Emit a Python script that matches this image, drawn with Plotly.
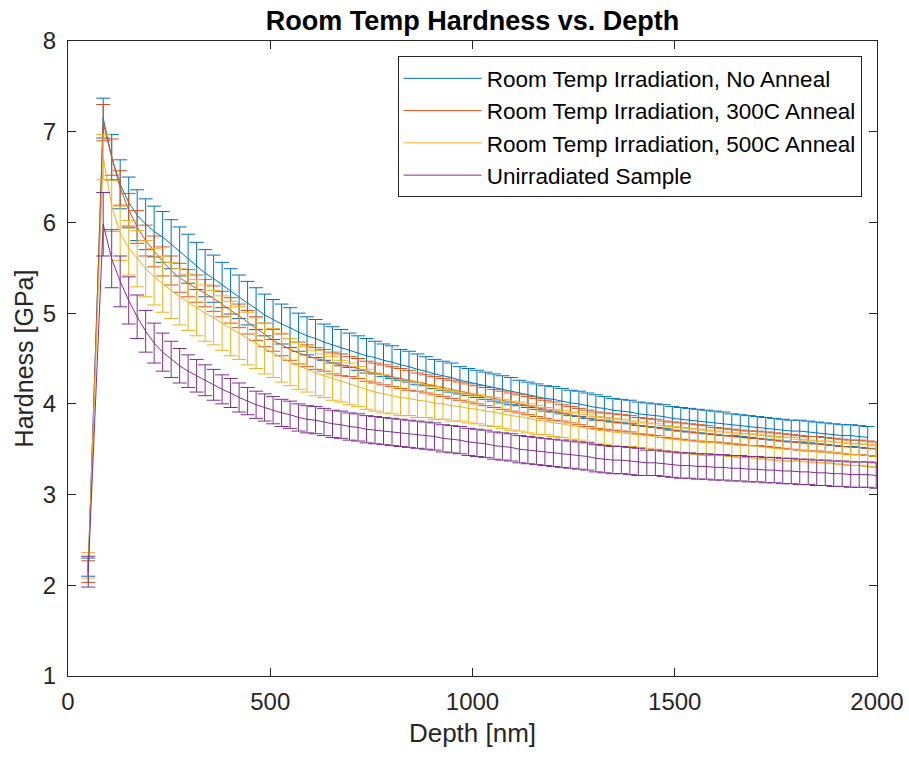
import plotly.graph_objects as go

DEPTH = [50, 87, 108, 129, 150, 171, 192, 213, 234, 255, 276, 297, 318, 339, 360, 381, 402, 423,
         444, 465, 486, 507, 528, 549, 570, 591, 612, 633, 654, 675, 696, 717, 738, 759, 780, 801,
         822, 843, 864, 885, 906, 927, 948, 969, 990, 1011, 1032, 1053, 1074, 1095, 1116, 1137,
         1158, 1179, 1200, 1221, 1242, 1263, 1284, 1305, 1326, 1347, 1368, 1389, 1410, 1431, 1452,
         1473, 1494, 1515, 1536, 1557, 1578, 1599, 1620, 1641, 1662, 1683, 1704, 1725, 1746, 1767,
         1788, 1809, 1830, 1851, 1872, 1893, 1914, 1935, 1956, 1977, 1998]

NO_ANNEAL = [2.20, 7.15, 6.72, 6.42, 6.22, 6.08, 5.98, 5.90, 5.84, 5.76, 5.68, 5.60, 5.52, 5.44,
             5.38, 5.31, 5.24, 5.18, 5.11, 5.05, 4.98, 4.93, 4.88, 4.84, 4.79, 4.75, 4.72, 4.68,
             4.65, 4.62, 4.59, 4.56, 4.53, 4.51, 4.48, 4.46, 4.43, 4.41, 4.38, 4.36, 4.33, 4.31,
             4.29, 4.26, 4.24, 4.22, 4.20, 4.18, 4.16, 4.14, 4.12, 4.10, 4.08, 4.06, 4.05, 4.03,
             4.01, 4.00, 3.98, 3.96, 3.95, 3.93, 3.92, 3.91, 3.89, 3.88, 3.87, 3.86, 3.84, 3.83,
             3.82, 3.81, 3.80, 3.79, 3.78, 3.77, 3.76, 3.75, 3.74, 3.73, 3.72, 3.71, 3.70, 3.70,
             3.69, 3.68, 3.67, 3.66, 3.65, 3.65, 3.64, 3.63]
NO_ANNEAL_ERR = [0.10, 0.22, 0.25, 0.27, 0.28,
                 0.28, 0.28, 0.28, 0.28, 0.27, 0.27, 0.27, 0.26, 0.26,
                 0.26, 0.25, 0.25, 0.24, 0.24, 0.23, 0.23, 0.22, 0.22, 0.22, 0.21,
                 0.21, 0.21, 0.20, 0.20, 0.20, 0.19, 0.19, 0.19, 0.18, 0.18, 0.18, 0.17, 0.17, 0.17,
                 0.16, 0.16, 0.16, 0.16, 0.15, 0.15,
                 0.15, 0.15, 0.15, 0.15, 0.15, 0.14, 0.14, 0.14, 0.14, 0.14, 0.14, 0.14, 0.14, 0.14,
                 0.14, 0.13, 0.13, 0.13, 0.13, 0.13, 0.13, 0.13, 0.13, 0.13, 0.13, 0.13, 0.13, 0.13,
                 0.13, 0.13, 0.12, 0.12, 0.12, 0.12, 0.12, 0.12, 0.12, 0.12, 0.12, 0.12, 0.12, 0.12,
                 0.12, 0.12, 0.12, 0.12, 0.12]

ANNEAL_300 = [2.15, 7.10, 6.72, 6.38, 6.14, 5.95, 5.80, 5.68, 5.57, 5.47, 5.39, 5.33, 5.27, 5.22,
              5.16, 5.10, 5.03, 4.97, 4.90, 4.83, 4.76, 4.70, 4.65, 4.60, 4.56, 4.53, 4.50, 4.48,
              4.45, 4.43, 4.41, 4.39, 4.36, 4.34, 4.32, 4.30, 4.28, 4.26, 4.24, 4.22, 4.20, 4.18,
              4.16, 4.14, 4.12, 4.10, 4.08, 4.06, 4.04, 4.02, 4.00, 3.98, 3.96, 3.94, 3.92, 3.90,
              3.88, 3.86, 3.84, 3.82, 3.81, 3.80, 3.79, 3.78, 3.76, 3.75, 3.74, 3.72, 3.71, 3.70,
              3.69, 3.68, 3.67, 3.66, 3.65, 3.64, 3.63, 3.62, 3.62, 3.61, 3.60, 3.59, 3.58, 3.57,
              3.56, 3.56, 3.55, 3.54, 3.53, 3.52, 3.52, 3.51, 3.50]
ANNEAL_300_ERR = [0.12, 0.20, 0.20, 0.19, 0.18,
                  0.18, 0.17, 0.17, 0.16, 0.16, 0.16, 0.15, 0.15, 0.15,
                  0.14, 0.14, 0.14, 0.13, 0.13, 0.13, 0.13, 0.12, 0.12, 0.12, 0.12,
                  0.12, 0.12, 0.12, 0.12, 0.12, 0.11, 0.11, 0.11, 0.11, 0.11, 0.11, 0.11, 0.11,
                  0.10, 0.10, 0.10, 0.10, 0.10, 0.10, 0.10,
                  0.10, 0.10, 0.10, 0.10, 0.10, 0.10, 0.10, 0.10, 0.10, 0.10, 0.09, 0.09, 0.09,
                  0.09, 0.09, 0.09, 0.09, 0.09, 0.09, 0.09, 0.09, 0.09, 0.09, 0.09, 0.09, 0.09,
                  0.09, 0.09, 0.08, 0.08, 0.08, 0.08, 0.08, 0.08, 0.08, 0.08, 0.08, 0.08, 0.08,
                  0.08, 0.08, 0.08, 0.08, 0.08, 0.08, 0.08, 0.08, 0.08]

ANNEAL_500 = [2.22, 6.72, 6.18, 5.88, 5.72, 5.60, 5.49, 5.40, 5.32, 5.25, 5.18, 5.12, 5.06, 5.00,
              4.95, 4.89, 4.83, 4.78, 4.72, 4.67, 4.61, 4.56, 4.51, 4.46, 4.42, 4.38, 4.34, 4.31,
              4.28, 4.25, 4.22, 4.19, 4.16, 4.13, 4.11, 4.09, 4.07, 4.06, 4.04, 4.03, 4.01, 4.00,
              3.98, 3.97, 3.95, 3.94, 3.92, 3.91, 3.89, 3.87, 3.86, 3.84, 3.82, 3.81, 3.79, 3.78,
              3.76, 3.75, 3.73, 3.71, 3.70, 3.69, 3.68, 3.67, 3.66, 3.65, 3.64, 3.62, 3.61, 3.60,
              3.59, 3.58, 3.57, 3.57, 3.56, 3.55, 3.54, 3.54, 3.53, 3.52, 3.51, 3.50, 3.50, 3.49,
              3.48, 3.47, 3.47, 3.46, 3.45, 3.44, 3.44, 3.43, 3.42]
ANNEAL_500_ERR = [0.14, 0.25, 0.28, 0.30, 0.30,
                  0.31, 0.31, 0.31, 0.31, 0.31, 0.31, 0.31, 0.31, 0.31,
                  0.30, 0.30, 0.30, 0.29, 0.29, 0.28, 0.28, 0.27, 0.27, 0.26, 0.26,
                  0.25, 0.25, 0.24, 0.24, 0.23, 0.23, 0.22, 0.22, 0.21, 0.21, 0.20, 0.20, 0.19,
                  0.19, 0.18, 0.18, 0.17, 0.17, 0.16, 0.16,
                  0.16, 0.16, 0.16, 0.16, 0.16, 0.16, 0.16, 0.16, 0.15, 0.15, 0.15, 0.15, 0.15,
                  0.15, 0.15, 0.15, 0.15, 0.15, 0.14, 0.14, 0.14, 0.14, 0.14, 0.14, 0.14, 0.14,
                  0.14, 0.14, 0.13, 0.13, 0.13, 0.13, 0.13, 0.13, 0.13, 0.13, 0.13, 0.13, 0.12,
                  0.12, 0.12, 0.12, 0.12, 0.12, 0.12, 0.12, 0.12, 0.12]

UNIRRADIATED = [2.15, 5.98, 5.60, 5.35, 5.14, 4.96, 4.80, 4.67, 4.57, 4.49, 4.42, 4.36, 4.31, 4.26,
                4.21, 4.16, 4.12, 4.07, 4.03, 3.99, 3.96, 3.93, 3.90, 3.88, 3.85, 3.83, 3.82, 3.80,
                3.78, 3.77, 3.75, 3.74, 3.72, 3.71, 3.70, 3.69, 3.68, 3.67, 3.66, 3.65, 3.64, 3.62,
                3.61, 3.60, 3.58, 3.57, 3.56, 3.54, 3.53, 3.52, 3.50, 3.49, 3.48, 3.47, 3.46, 3.45,
                3.44, 3.43, 3.42, 3.40, 3.39, 3.38, 3.38, 3.37, 3.36, 3.35, 3.35, 3.34, 3.33, 3.32,
                3.32, 3.31, 3.31, 3.30, 3.30, 3.29, 3.29, 3.28, 3.28, 3.27, 3.27, 3.26, 3.26, 3.25,
                3.25, 3.24, 3.24, 3.23, 3.23, 3.22, 3.22, 3.22, 3.21]
UNIRRADIATED_ERR = [0.17, 0.35, 0.32, 0.28, 0.26,
                    0.24, 0.23, 0.22, 0.21, 0.20, 0.19, 0.18, 0.18, 0.17,
                    0.17, 0.16, 0.16, 0.16, 0.15, 0.15, 0.15, 0.15, 0.15, 0.15, 0.15,
                    0.15, 0.15, 0.15, 0.15, 0.15, 0.15, 0.15, 0.15, 0.15, 0.15, 0.15, 0.15, 0.15,
                    0.15, 0.15, 0.15, 0.15, 0.15, 0.15, 0.15,
                    0.15, 0.15, 0.15, 0.15, 0.15, 0.15, 0.15, 0.15, 0.15, 0.15, 0.15, 0.15, 0.15,
                    0.15, 0.15, 0.15, 0.15, 0.15, 0.15, 0.15, 0.14, 0.14, 0.14, 0.14, 0.14, 0.14,
                    0.14, 0.14, 0.14, 0.14, 0.14, 0.14, 0.14, 0.14, 0.14, 0.14, 0.14, 0.14, 0.14,
                    0.14, 0.14, 0.14, 0.14, 0.14, 0.14, 0.14, 0.14, 0.14]

SERIES = [
    ("Room Temp Irradiation, No Anneal", NO_ANNEAL, NO_ANNEAL_ERR, "#0072BD"),
    ("Room Temp Irradiation, 300C Anneal", ANNEAL_300, ANNEAL_300_ERR, "#D95319"),
    ("Room Temp Irradiation, 500C Anneal", ANNEAL_500, ANNEAL_500_ERR, "#EDB120"),
    ("Unirradiated Sample", UNIRRADIATED, UNIRRADIATED_ERR, "#7E2F8E"),
]

FONT = "Liberation Sans, Arial, sans-serif"
AXC = "#262626"

fig = go.Figure()
for name, vals, errs, color in SERIES:
    n = len(vals)
    fig.add_trace(go.Scatter(
        x=DEPTH[:n], y=vals, name=name, mode="lines",
        line=dict(color=color, width=1),
        error_y=dict(type="data", array=errs, visible=True, color=color, thickness=1, width=7),
    ))

axis_common = dict(
    showline=True, linecolor=AXC, linewidth=1, mirror="ticks",
    ticks="inside", ticklen=8, tickcolor=AXC, tickwidth=1,
    showgrid=False, zeroline=False, automargin=False,
    tickfont=dict(family=FONT, size=24, color=AXC),
)

fig.update_layout(
    width=909, height=757,
    margin=dict(l=68, r=32, t=41, b=81),
    paper_bgcolor="white", plot_bgcolor="white",
    title=dict(text="<b>Room Temp Hardness vs. Depth</b>", x=(68 + 877) / 2 / 909, xanchor="center",
               y=1 - 21 / 757, yanchor="middle",
               font=dict(family=FONT, size=27, color="black")),
    xaxis=dict(range=[0, 2000], tickvals=[0, 500, 1000, 1500, 2000],
               ticklabelstandoff=4,
               title=dict(text="Depth [nm]", font=dict(family=FONT, size=26, color=AXC), standoff=10),
               **axis_common),
    yaxis=dict(range=[1, 8], tickvals=[1, 2, 3, 4, 5, 6, 7, 8],
               ticklabelstandoff=6,
               title=dict(text="Hardness [GPa]", font=dict(family=FONT, size=25, color=AXC), standoff=2),
               **axis_common),
    legend=dict(x=0.981, xanchor="right", y=0.976, yanchor="top",
                bgcolor="white", bordercolor=AXC, borderwidth=1,
                font=dict(family=FONT, size=22.5, color="black"),
                itemwidth=78, tracegroupgap=0),
    showlegend=True,
)

fig.write_html("out.html")
